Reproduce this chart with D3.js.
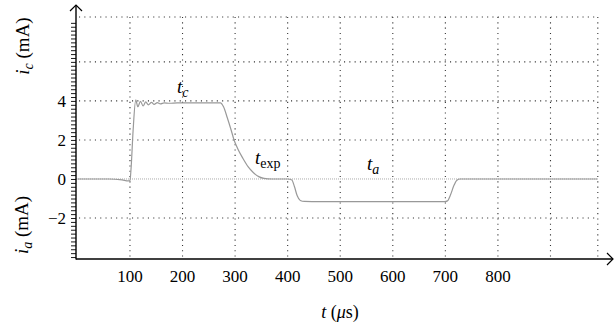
<!DOCTYPE html>
<html>
<head>
<meta charset="utf-8">
<script src="https://cdn.jsdelivr.net/npm/d3@7"></script>
<style>
  body { margin: 0; background: #fff; }
</style>
</head>
<body>
<svg id="chart" width="615" height="336"></svg>
<script>
// time axis (microseconds) and labels
const timeTicks = [100, 200, 300, 400, 500, 600, 700, 800];
const timeGrid = [100, 200, 300, 400, 500, 600, 700, 800, 900, 990];
// current axis (mA)
const currentTicks = [4, 2, 0, -2];
const currentGrid = [8.3, 6, 4, 2, -2];

// measured current trace: [t in us, i in mA]
const traceT = [0, 60, 85, 97, 100, 102, 106, 111, 115, 120, 125, 130, 135, 141, 146, 152, 158, 165, 175, 190, 240, 272,
  278, 285, 292, 298, 305, 315, 325, 335, 345, 355, 370, 400, 408, 413, 418, 424, 432, 460, 600, 698,
  704, 710, 716, 722, 728, 800, 990];
const traceI = [0, 0, -0.05, -0.1, -0.08, 0.5, 2.5, 4.05, 3.7, 3.98, 3.74, 3.95, 3.8, 3.93, 3.82, 3.91, 3.85, 3.9, 3.88, 3.9, 3.9, 3.9,
  3.7, 3.15, 2.55, 2.0, 1.55, 1.05, 0.62, 0.32, 0.12, 0.03, 0, 0, -0.05, -0.4, -0.85, -1.1, -1.15, -1.16, -1.16, -1.16,
  -1.12, -0.8, -0.35, -0.06, 0, 0, 0];

// pick the first serif face that is really installed
function pickFont(list) {
  const ctx = document.createElement("canvas").getContext("2d");
  const probe = "mmmwwlli 0123456789 (mA)";
  const w = f => { ctx.font = "40px " + f; return ctx.measureText(probe).width; };
  const mono = w("monospace"), sans = w("sans-serif");
  for (const f of list) {
    const a = w(`"${f}", monospace`), b = w(`"${f}", sans-serif`);
    if (a !== mono || b !== sans) return `"${f}"`;
  }
  return "serif";
}
const FONT = pickFont(["Liberation Serif", "DejaVu Serif", "Noto Serif", "Times New Roman", "Tinos", "Nimbus Roman", "FreeSerif"]);

const svg = d3.select("#chart").attr("font-family", FONT);
const x = d3.scaleLinear().domain([0, 990]).range([77.4, 597.8]);
const y = d3.scaleLinear().domain([-4.1, 8.3]).range([259, 17]);
const x0 = x(0) - 1.4, yBase = y(-4.1);

// dotted grid
const grid = svg.append("g").attr("stroke", "#333").attr("stroke-width", 1.1)
  .attr("stroke-dasharray", "1.1,4.2").attr("fill", "none");
grid.selectAll("line.h").data(currentGrid).join("line").attr("class", "h")
  .attr("x1", x0 + 3).attr("x2", x(990)).attr("y1", d => y(d)).attr("y2", d => y(d));
grid.selectAll("line.v").data(timeGrid).join("line").attr("class", "v")
  .attr("x1", d => x(d)).attr("x2", d => x(d)).attr("y1", y(8.3)).attr("y2", yBase);

// zero line (fine dotted gray)
svg.append("line").attr("x1", x0).attr("x2", x(990)).attr("y1", y(0)).attr("y2", y(0))
  .attr("stroke", "#aaa").attr("stroke-width", 1).attr("stroke-dasharray", "1,1");

// trace
const pts = traceT.map((t, k) => [t, traceI[k]]);
svg.append("path").datum(pts)
  .attr("d", d3.line().x(d => x(d[0])).y(d => y(d[1])).curve(d3.curveMonotoneX))
  .attr("fill", "none").attr("stroke", "#999").attr("stroke-width", 1.2);

// y axis with dense minor ticks
const yAxis = svg.append("g").attr("transform", `translate(${x0},0)`)
  .call(d3.axisLeft(y).tickValues(d3.range(-4, 8.01, 0.2)).tickSize(5).tickFormat(""));
yAxis.select(".domain").remove();
yAxis.selectAll(".tick line").attr("stroke", "#000").attr("stroke-width", 0.9);
svg.append("line").attr("x1", x0).attr("x2", x0).attr("y1", yBase + 0.6).attr("y2", 5)
  .attr("stroke", "#000").attr("stroke-width", 1.4);
svg.append("path").attr("d", `M${x0 - 6},${11} L${x0},${5} L${x0 + 6},${11}`)
  .attr("fill", "none").attr("stroke", "#000").attr("stroke-width", 1.2);

// x axis
svg.append("line").attr("x1", x0).attr("x2", 613).attr("y1", yBase).attr("y2", yBase)
  .attr("stroke", "#000").attr("stroke-width", 1.4);
svg.append("path").attr("d", `M${607},${yBase - 6} L${613},${yBase} L${607},${yBase + 6}`)
  .attr("fill", "none").attr("stroke", "#000").attr("stroke-width", 1.2);

// tick labels
svg.append("g").selectAll("text").data(timeTicks).join("text")
  .attr("x", d => x(d)).attr("y", 282).attr("text-anchor", "middle")
  .attr("font-size", 17).text(d => d);
svg.append("g").selectAll("text").data(currentTicks).join("text")
  .attr("x", 66).attr("y", d => y(d) + 6).attr("text-anchor", "end")
  .attr("font-size", 17).text(d => d < 0 ? "\u2212" + Math.abs(d) : d);

// axis titles
function subLabel(g, main, sub, rest, italicSub) {
  const t = g.append("text").attr("font-size", 19);
  t.append("tspan").attr("font-style", "italic").text(main);
  t.append("tspan").attr("font-size", 14).attr("dy", 4).attr("font-style", italicSub ? "italic" : "normal").text(sub);
  if (rest) t.append("tspan").attr("dy", -4).text(rest);
  return t;
}
subLabel(svg.append("g").attr("transform", "translate(29,46) rotate(-90)"), "i", "c", " (mA)", true)
  .attr("text-anchor", "middle");
subLabel(svg.append("g").attr("transform", "translate(28,225) rotate(-90)"), "i", "a", " (mA)", true)
  .attr("text-anchor", "middle");

const tl = svg.append("text").attr("x", 340).attr("y", 318).attr("text-anchor", "middle").attr("font-size", 18);
tl.append("tspan").attr("font-style", "italic").text("t");
tl.append("tspan").text(" (");
tl.append("tspan").attr("font-style", "italic").text("\u03bc");
tl.append("tspan").text("s)");

// annotations
subLabel(svg.append("g").attr("transform", "translate(177,93)"), "t", "c", null, true);
subLabel(svg.append("g").attr("transform", "translate(255,164)"), "t", "exp", null, false);
subLabel(svg.append("g").attr("transform", "translate(367,170)"), "t", "a", null, true);
</script>
</body>
</html>
